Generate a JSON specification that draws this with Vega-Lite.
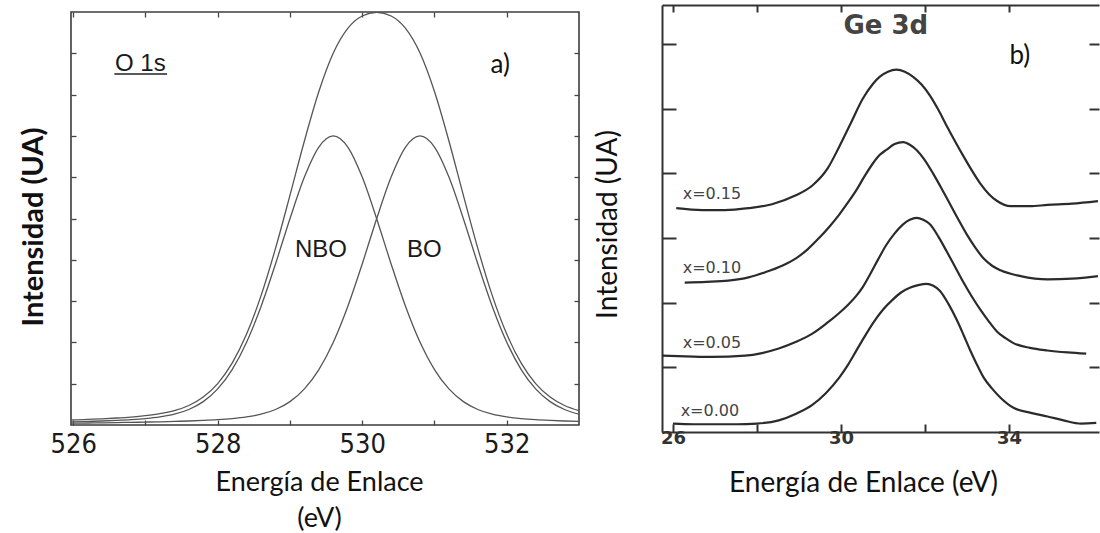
{
  "$schema": "https://vega.github.io/schema/vega-lite/v6.json",
  "background": "white",
  "padding": {"left": 18, "top": 4, "right": 0, "bottom": 0},
  "spacing": 13,
  "config": {"axis": {"grid": false, "domain": false}},
  "datasets": {
    "o1s": [
      {"s":"nbo","e":525.9,"v":0.75},{"s":"nbo","e":526.0,"v":0.78},{"s":"nbo","e":526.2,"v":0.87},{"s":"nbo","e":526.4,"v":0.97},{"s":"nbo","e":526.6,"v":1.11},{"s":"nbo","e":526.8,"v":1.29},{"s":"nbo","e":527.0,"v":1.55},{"s":"nbo","e":527.2,"v":1.95},{"s":"nbo","e":527.4,"v":2.61},{"s":"nbo","e":527.6,"v":3.75},{"s":"nbo","e":527.8,"v":5.66},{"s":"nbo","e":528.0,"v":8.74},{"s":"nbo","e":528.2,"v":13.43},{"s":"nbo","e":528.4,"v":20.06},{"s":"nbo","e":528.6,"v":28.71},{"s":"nbo","e":528.8,"v":39.0},{"s":"nbo","e":529.0,"v":49.95},{"s":"nbo","e":529.2,"v":60.03},{"s":"nbo","e":529.4,"v":67.31},{"s":"nbo","e":529.6,"v":70.0},{"s":"nbo","e":529.8,"v":67.31},{"s":"nbo","e":530.0,"v":60.03},{"s":"nbo","e":530.2,"v":49.95},{"s":"nbo","e":530.4,"v":39.0},{"s":"nbo","e":530.6,"v":28.71},{"s":"nbo","e":530.8,"v":20.06},{"s":"nbo","e":531.0,"v":13.43},{"s":"nbo","e":531.2,"v":8.74},{"s":"nbo","e":531.4,"v":5.66},{"s":"nbo","e":531.6,"v":3.75},{"s":"nbo","e":531.8,"v":2.61},{"s":"nbo","e":532.0,"v":1.95},{"s":"nbo","e":532.2,"v":1.55},{"s":"nbo","e":532.4,"v":1.29},{"s":"nbo","e":532.6,"v":1.11},{"s":"nbo","e":532.8,"v":0.97},{"s":"nbo","e":533.0,"v":0.87},
      {"s":"bo","e":525.9,"v":0.44},{"s":"bo","e":526.0,"v":0.45},{"s":"bo","e":526.2,"v":0.49},{"s":"bo","e":526.4,"v":0.53},{"s":"bo","e":526.6,"v":0.58},{"s":"bo","e":526.8,"v":0.64},{"s":"bo","e":527.0,"v":0.71},{"s":"bo","e":527.2,"v":0.78},{"s":"bo","e":527.4,"v":0.87},{"s":"bo","e":527.6,"v":0.97},{"s":"bo","e":527.8,"v":1.11},{"s":"bo","e":528.0,"v":1.29},{"s":"bo","e":528.2,"v":1.55},{"s":"bo","e":528.4,"v":1.95},{"s":"bo","e":528.6,"v":2.61},{"s":"bo","e":528.8,"v":3.75},{"s":"bo","e":529.0,"v":5.66},{"s":"bo","e":529.2,"v":8.74},{"s":"bo","e":529.4,"v":13.43},{"s":"bo","e":529.6,"v":20.06},{"s":"bo","e":529.8,"v":28.71},{"s":"bo","e":530.0,"v":39.0},{"s":"bo","e":530.2,"v":49.95},{"s":"bo","e":530.4,"v":60.03},{"s":"bo","e":530.6,"v":67.31},{"s":"bo","e":530.8,"v":70.0},{"s":"bo","e":531.0,"v":67.31},{"s":"bo","e":531.2,"v":60.03},{"s":"bo","e":531.4,"v":49.95},{"s":"bo","e":531.6,"v":39.0},{"s":"bo","e":531.8,"v":28.71},{"s":"bo","e":532.0,"v":20.06},{"s":"bo","e":532.2,"v":13.43},{"s":"bo","e":532.4,"v":8.74},{"s":"bo","e":532.6,"v":5.66},{"s":"bo","e":532.8,"v":3.75},{"s":"bo","e":533.0,"v":2.61},
      {"s":"env","e":525.9,"v":1.19},{"s":"env","e":526.0,"v":1.23},{"s":"env","e":526.2,"v":1.36},{"s":"env","e":526.4,"v":1.5},{"s":"env","e":526.6,"v":1.69},{"s":"env","e":526.8,"v":1.93},{"s":"env","e":527.0,"v":2.26},{"s":"env","e":527.2,"v":2.73},{"s":"env","e":527.4,"v":3.48},{"s":"env","e":527.6,"v":4.72},{"s":"env","e":527.8,"v":6.77},{"s":"env","e":528.0,"v":10.03},{"s":"env","e":528.2,"v":14.98},{"s":"env","e":528.4,"v":22.01},{"s":"env","e":528.6,"v":31.32},{"s":"env","e":528.8,"v":42.75},{"s":"env","e":529.0,"v":55.61},{"s":"env","e":529.2,"v":68.77},{"s":"env","e":529.4,"v":80.74},{"s":"env","e":529.6,"v":90.06},{"s":"env","e":529.8,"v":96.02},{"s":"env","e":530.0,"v":99.03},{"s":"env","e":530.2,"v":99.9},{"s":"env","e":530.4,"v":99.03},{"s":"env","e":530.6,"v":96.02},{"s":"env","e":530.8,"v":90.06},{"s":"env","e":531.0,"v":80.74},{"s":"env","e":531.2,"v":68.77},{"s":"env","e":531.4,"v":55.61},{"s":"env","e":531.6,"v":42.75},{"s":"env","e":531.8,"v":31.32},{"s":"env","e":532.0,"v":22.01},{"s":"env","e":532.2,"v":14.98},{"s":"env","e":532.4,"v":10.03},{"s":"env","e":532.6,"v":6.77},{"s":"env","e":532.8,"v":4.72},{"s":"env","e":533.0,"v":3.48}
    ],
    "o1s_ul": [{"e1":526.57,"e2":527.3,"v":85.0}],
    "o1s_lab": [
      {"t":"O 1s","e":526.93,"v":87.3},
      {"t":"NBO","e":529.43,"v":42.4},
      {"t":"BO","e":530.86,"v":42.4}
    ],
    "o1s_tag": [{"t":"a)","e":531.91,"v":87.1}],
    "ge3d": [
      {"s":"x=0.15","e":26.08,"v":3.46},{"s":"x=0.15","e":26.7,"v":3.43},{"s":"x=0.15","e":27.24,"v":3.43},{"s":"x=0.15","e":27.8,"v":3.46},{"s":"x=0.15","e":28.36,"v":3.52},{"s":"x=0.15","e":28.9,"v":3.65},{"s":"x=0.15","e":29.32,"v":3.81},{"s":"x=0.15","e":29.68,"v":4.07},{"s":"x=0.15","e":29.96,"v":4.41},{"s":"x=0.15","e":30.24,"v":4.78},{"s":"x=0.15","e":30.52,"v":5.15},{"s":"x=0.15","e":30.76,"v":5.38},{"s":"x=0.15","e":30.92,"v":5.49},{"s":"x=0.15","e":31.12,"v":5.57},{"s":"x=0.15","e":31.32,"v":5.6},{"s":"x=0.15","e":31.52,"v":5.57},{"s":"x=0.15","e":31.72,"v":5.49},{"s":"x=0.15","e":31.92,"v":5.37},{"s":"x=0.15","e":32.12,"v":5.2},{"s":"x=0.15","e":32.32,"v":4.98},{"s":"x=0.15","e":32.52,"v":4.73},{"s":"x=0.15","e":32.72,"v":4.49},{"s":"x=0.15","e":32.92,"v":4.26},{"s":"x=0.15","e":33.12,"v":4.04},{"s":"x=0.15","e":33.32,"v":3.84},{"s":"x=0.15","e":33.52,"v":3.68},{"s":"x=0.15","e":33.72,"v":3.57},{"s":"x=0.15","e":34.04,"v":3.49},{"s":"x=0.15","e":34.5,"v":3.49},{"s":"x=0.15","e":34.92,"v":3.51},{"s":"x=0.15","e":35.5,"v":3.53},{"s":"x=0.15","e":36.12,"v":3.57},
      {"s":"x=0.10","e":26.28,"v":2.31},{"s":"x=0.10","e":26.8,"v":2.32},{"s":"x=0.10","e":27.32,"v":2.34},{"s":"x=0.10","e":27.8,"v":2.39},{"s":"x=0.10","e":28.2,"v":2.47},{"s":"x=0.10","e":28.6,"v":2.57},{"s":"x=0.10","e":28.92,"v":2.68},{"s":"x=0.10","e":29.2,"v":2.82},{"s":"x=0.10","e":29.48,"v":3.0},{"s":"x=0.10","e":29.72,"v":3.17},{"s":"x=0.10","e":29.96,"v":3.36},{"s":"x=0.10","e":30.16,"v":3.54},{"s":"x=0.10","e":30.36,"v":3.73},{"s":"x=0.10","e":30.56,"v":3.95},{"s":"x=0.10","e":30.76,"v":4.15},{"s":"x=0.10","e":30.92,"v":4.28},{"s":"x=0.10","e":31.08,"v":4.36},{"s":"x=0.10","e":31.28,"v":4.45},{"s":"x=0.10","e":31.48,"v":4.48},{"s":"x=0.10","e":31.64,"v":4.44},{"s":"x=0.10","e":31.8,"v":4.36},{"s":"x=0.10","e":32.0,"v":4.2},{"s":"x=0.10","e":32.2,"v":3.99},{"s":"x=0.10","e":32.4,"v":3.76},{"s":"x=0.10","e":32.6,"v":3.52},{"s":"x=0.10","e":32.8,"v":3.28},{"s":"x=0.10","e":33.0,"v":3.05},{"s":"x=0.10","e":33.2,"v":2.85},{"s":"x=0.10","e":33.4,"v":2.68},{"s":"x=0.10","e":33.6,"v":2.57},{"s":"x=0.10","e":33.8,"v":2.5},{"s":"x=0.10","e":34.28,"v":2.41},{"s":"x=0.10","e":34.92,"v":2.36},{"s":"x=0.10","e":35.5,"v":2.37},{"s":"x=0.10","e":36.12,"v":2.41},
      {"s":"x=0.05","e":25.74,"v":1.18},{"s":"x=0.05","e":26.3,"v":1.17},{"s":"x=0.05","e":26.92,"v":1.16},{"s":"x=0.05","e":27.72,"v":1.18},{"s":"x=0.05","e":28.12,"v":1.22},{"s":"x=0.05","e":28.52,"v":1.29},{"s":"x=0.05","e":28.92,"v":1.39},{"s":"x=0.05","e":29.32,"v":1.52},{"s":"x=0.05","e":29.64,"v":1.67},{"s":"x=0.05","e":29.96,"v":1.84},{"s":"x=0.05","e":30.16,"v":1.96},{"s":"x=0.05","e":30.36,"v":2.1},{"s":"x=0.05","e":30.52,"v":2.24},{"s":"x=0.05","e":30.68,"v":2.42},{"s":"x=0.05","e":30.88,"v":2.66},{"s":"x=0.05","e":31.08,"v":2.89},{"s":"x=0.05","e":31.28,"v":3.07},{"s":"x=0.05","e":31.48,"v":3.21},{"s":"x=0.05","e":31.64,"v":3.28},{"s":"x=0.05","e":31.8,"v":3.31},{"s":"x=0.05","e":31.96,"v":3.28},{"s":"x=0.05","e":32.12,"v":3.21},{"s":"x=0.05","e":32.32,"v":3.02},{"s":"x=0.05","e":32.52,"v":2.79},{"s":"x=0.05","e":32.72,"v":2.55},{"s":"x=0.05","e":32.92,"v":2.31},{"s":"x=0.05","e":33.12,"v":2.09},{"s":"x=0.05","e":33.32,"v":1.89},{"s":"x=0.05","e":33.52,"v":1.71},{"s":"x=0.05","e":33.72,"v":1.55},{"s":"x=0.05","e":33.92,"v":1.45},{"s":"x=0.05","e":34.12,"v":1.37},{"s":"x=0.05","e":34.5,"v":1.3},{"s":"x=0.05","e":34.92,"v":1.26},{"s":"x=0.05","e":35.4,"v":1.23},{"s":"x=0.05","e":35.84,"v":1.21},
      {"s":"x=0.00","e":26.0,"v":0.13},{"s":"x=0.00","e":26.5,"v":0.12},{"s":"x=0.00","e":27.0,"v":0.12},{"s":"x=0.00","e":27.5,"v":0.12},{"s":"x=0.00","e":28.0,"v":0.13},{"s":"x=0.00","e":28.52,"v":0.18},{"s":"x=0.00","e":28.92,"v":0.28},{"s":"x=0.00","e":29.32,"v":0.42},{"s":"x=0.00","e":29.64,"v":0.6},{"s":"x=0.00","e":29.96,"v":0.84},{"s":"x=0.00","e":30.16,"v":1.03},{"s":"x=0.00","e":30.36,"v":1.25},{"s":"x=0.00","e":30.56,"v":1.47},{"s":"x=0.00","e":30.76,"v":1.68},{"s":"x=0.00","e":31.0,"v":1.89},{"s":"x=0.00","e":31.24,"v":2.05},{"s":"x=0.00","e":31.44,"v":2.16},{"s":"x=0.00","e":31.64,"v":2.23},{"s":"x=0.00","e":31.84,"v":2.27},{"s":"x=0.00","e":32.04,"v":2.29},{"s":"x=0.00","e":32.2,"v":2.26},{"s":"x=0.00","e":32.36,"v":2.18},{"s":"x=0.00","e":32.56,"v":1.98},{"s":"x=0.00","e":32.76,"v":1.73},{"s":"x=0.00","e":32.92,"v":1.5},{"s":"x=0.00","e":33.08,"v":1.26},{"s":"x=0.00","e":33.24,"v":1.04},{"s":"x=0.00","e":33.4,"v":0.84},{"s":"x=0.00","e":33.6,"v":0.67},{"s":"x=0.00","e":33.8,"v":0.53},{"s":"x=0.00","e":34.12,"v":0.37},{"s":"x=0.00","e":34.5,"v":0.3},{"s":"x=0.00","e":34.92,"v":0.24},{"s":"x=0.00","e":35.3,"v":0.18},{"s":"x=0.00","e":35.72,"v":0.13},{"s":"x=0.00","e":36.08,"v":0.14}
    ],
    "ge3d_lab": [
      {"t":"x=0.15","e":26.93,"v":3.68},
      {"t":"x=0.10","e":26.93,"v":2.53},
      {"t":"x=0.05","e":26.93,"v":1.38},
      {"t":"x=0.00","e":26.88,"v":0.33}
    ],
    "ge3d_title": [{"t":"Ge 3d","e":31.07,"v":6.28}],
    "ge3d_tag": [{"t":"b)","e":34.26,"v":5.81}],
    "spacer": [{}]
  },
  "hconcat": [
    {
      "spacing": 6,
      "bounds": "flush",
      "vconcat": [
        {
          "width": 508,
          "height": 1,
          "view": {"stroke": null},
          "data": {"name": "spacer"},
          "mark": {"type": "point", "size": 0, "opacity": 0}
        },
        {
          "width": 508,
          "height": 413,
          "view": {"stroke": "#3c3c3c", "strokeWidth": 1.6},
          "layer": [
            {
              "data": {"name": "o1s"},
              "mark": {"type": "line", "interpolate": "monotone", "stroke": "#555555", "strokeWidth": 1.3, "clip": true},
              "encoding": {
                "x": {"field": "e", "type": "quantitative", "scale": {"domain": [525.97, 533.0], "nice": false, "zero": false},
                  "axis": {"orient": "bottom", "values": [526, 527, 528, 529, 530, 531, 532], "format": "d",
                    "labelExpr": "datum.value % 2 == 0 ? datum.label : ''",
                    "tickSize": -5, "tickWidth": 1.3, "tickColor": "#444444",
                    "labelFont": "Liberation Sans Narrow, DejaVu Sans Condensed, Liberation Sans, sans-serif", "labelFontSize": 27, "labelColor": "#1a1a1a", "labelPadding": 11,
                    "title": ["Energía de Enlace", "(eV)"], "titleFont": "Lato", "titleFontSize": 27, "titleFontWeight": "normal",
                    "titleColor": "#111111", "titleX": 248, "titleY": 65, "titleBaseline": "alphabetic", "titleLineHeight": 36, "titleAlign": "center"}},
                "y": {"field": "v", "type": "quantitative", "scale": {"domain": [0, 100], "nice": false},
                  "axis": {"orient": "left", "values": [10, 20, 30, 40, 50, 60, 70, 80, 90], "tickSize": -5, "tickWidth": 1.3, "tickColor": "#444444",
                    "labels": false, "title": "Intensidad (UA)", "titleFont": "Lato", "titleFontSize": 29, "titleFontWeight": "bold",
                    "titleColor": "#111111", "titleAngle": -90, "titleX": -37.5, "titleY": 214.5, "titleAlign": "center", "titleBaseline": "middle"}},
                "detail": {"field": "s", "type": "nominal"}
              }
            },
            {
              "data": {"name": "o1s_ul"},
              "mark": {"type": "rule", "stroke": "#222222", "strokeWidth": 1.6},
              "encoding": {
                "x": {"field": "e1", "type": "quantitative", "scale": {"domain": [525.97, 533.0], "nice": false, "zero": false},
                  "axis": {"orient": "top", "values": [526, 527, 528, 529, 530, 531, 532], "tickSize": -5, "tickWidth": 1.3, "tickColor": "#444444", "labels": false, "title": null}},
                "x2": {"field": "e2"},
                "y": {"field": "v", "type": "quantitative", "scale": {"domain": [0, 100], "nice": false},
                  "axis": {"orient": "right", "values": [10, 20, 30, 40, 50, 60, 70, 80, 90], "tickSize": -5, "tickWidth": 1.3, "tickColor": "#444444", "labels": false, "title": null}}
              }
            },
            {
              "data": {"name": "o1s_lab"},
              "mark": {"type": "text", "font": "Liberation Sans", "fontSize": 24, "fill": "#1a1a1a", "align": "center", "baseline": "middle"},
              "encoding": {
                "x": {"field": "e", "type": "quantitative", "scale": {"domain": [525.97, 533.0], "nice": false, "zero": false}, "axis": null},
                "y": {"field": "v", "type": "quantitative", "scale": {"domain": [0, 100], "nice": false}, "axis": null},
                "text": {"field": "t"}
              }
            },
            {
              "data": {"name": "o1s_tag"},
              "mark": {"type": "text", "font": "Lato", "fontSize": 26, "fill": "#111111", "align": "center", "baseline": "middle"},
              "encoding": {
                "x": {"field": "e", "type": "quantitative", "scale": {"domain": [525.97, 533.0], "nice": false, "zero": false}, "axis": null},
                "y": {"field": "v", "type": "quantitative", "scale": {"domain": [0, 100], "nice": false}, "axis": null},
                "text": {"field": "t"}
              }
            }
          ],
          "resolve": {"axis": {"x": "independent", "y": "independent"}}
        }
      ]
    },
    {
      "width": 437,
      "height": 427,
      "view": {"stroke": null},
      "layer": [
        {
          "data": {"name": "ge3d"},
          "mark": {"type": "line", "interpolate": "monotone", "stroke": "#2b2b2b", "strokeWidth": 2.2, "clip": true},
          "encoding": {
            "x": {"field": "e", "type": "quantitative", "scale": {"domain": [25.74, 36.145], "nice": false, "zero": false},
              "axis": {"orient": "bottom", "values": [26, 28, 30, 32, 34], "format": "d",
                "labelExpr": "datum.value % 4 == 2 ? datum.label : ''",
                "domain": true, "domainColor": "#333333", "domainWidth": 2,
                "tickSize": -8, "tickWidth": 2, "tickColor": "#333333",
                "labelFont": "DejaVu Sans", "labelFontSize": 18, "labelFontWeight": "bold", "labelColor": "#333333", "labelPadding": 5,
                "title": "Energía de Enlace (eV)", "titleFont": "Lato", "titleFontSize": 28, "titleFontWeight": "normal",
                "titleColor": "#111111", "titleX": 201, "titleY": 59, "titleBaseline": "alphabetic", "titleAlign": "center"}},
            "y": {"field": "v", "type": "quantitative", "scale": {"domain": [0, 6.6], "nice": false, "zero": false},
              "axis": {"orient": "left", "values": [1, 2, 3, 4, 5, 6],
                "domain": true, "domainColor": "#333333", "domainWidth": 2,
                "tickSize": -14, "tickWidth": 2, "tickColor": "#333333",
                "labels": false, "title": "Intensidad (UA)", "titleFont": "Lato", "titleFontSize": 28, "titleFontWeight": "normal",
                "titleColor": "#111111", "titleAngle": -90, "titleX": -53.4, "titleY": 219, "titleAlign": "center", "titleBaseline": "middle"}},
            "detail": {"field": "s", "type": "nominal"}
          }
        },
        {
          "data": {"name": "ge3d_lab"},
          "mark": {"type": "text", "font": "DejaVu Sans", "fontSize": 16, "fill": "#444444", "align": "center", "baseline": "middle"},
          "encoding": {
            "x": {"field": "e", "type": "quantitative", "scale": {"domain": [25.74, 36.145], "nice": false, "zero": false},
              "axis": {"orient": "top", "values": [26, 28, 30, 32, 34], "domain": true, "domainColor": "#333333", "domainWidth": 2,
                "tickSize": -7, "tickWidth": 2, "tickColor": "#333333", "labels": false, "title": null}},
            "y": {"field": "v", "type": "quantitative", "scale": {"domain": [0, 6.6], "nice": false, "zero": false},
              "axis": {"orient": "right", "values": [1, 2, 3, 4, 5, 6], "domain": false,
                "tickSize": -10, "tickWidth": 2, "tickColor": "#333333", "labels": false, "title": null}},
            "text": {"field": "t"}
          }
        },
        {
          "data": {"name": "ge3d_title"},
          "mark": {"type": "text", "font": "DejaVu Sans", "fontSize": 26, "fontWeight": "bold", "fill": "#444444", "align": "center", "baseline": "middle"},
          "encoding": {
            "x": {"field": "e", "type": "quantitative", "scale": {"domain": [25.74, 36.145], "nice": false, "zero": false}, "axis": null},
            "y": {"field": "v", "type": "quantitative", "scale": {"domain": [0, 6.6], "nice": false, "zero": false}, "axis": null},
            "text": {"field": "t"}
          }
        },
        {
          "data": {"name": "ge3d_tag"},
          "mark": {"type": "text", "font": "Lato", "fontSize": 26, "fill": "#111111", "align": "center", "baseline": "middle"},
          "encoding": {
            "x": {"field": "e", "type": "quantitative", "scale": {"domain": [25.74, 36.145], "nice": false, "zero": false}, "axis": null},
            "y": {"field": "v", "type": "quantitative", "scale": {"domain": [0, 6.6], "nice": false, "zero": false}, "axis": null},
            "text": {"field": "t"}
          }
        }
      ],
      "resolve": {"axis": {"x": "independent", "y": "independent"}}
    }
  ]
}
